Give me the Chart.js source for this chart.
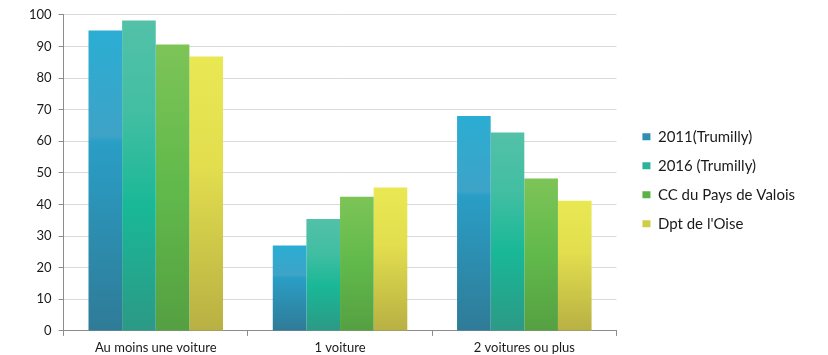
<!DOCTYPE html>
<html>
<head>
<meta charset="utf-8">
<script src="https://cdn.jsdelivr.net/npm/chart.js@4"></script>
<style>
  html, body { margin: 0; padding: 0; background: #fff; }
  #wrap { width: 828px; height: 355px; }
</style>
</head>
<body>
<div id="wrap"><canvas id="c" width="828" height="355"></canvas></div>
<script>
// Taux d'équipement automobile des ménages (%)
const categories = ['Au moins une voiture', '1 voiture', '2 voitures ou plus'];
const seriesNames = ['2011(Trumilly)', '2016 (Trumilly)', 'CC du Pays de Valois', "Dpt de l'Oise"];
const trumilly2011 = [95, 27, 68];
const trumilly2016 = [98.2, 35.4, 62.8];
const ccPaysValois = [90.6, 42.4, 48.2];
const dptOise = [86.8, 45.4, 41.2];

// Vertical gradient stops (top -> bottom) for each series, plus a flat legend colour
const gradientStops = [
  [[0, '#2badd3'], [0.35, '#3ea3c7'], [0.37, '#2a9ec6'], [1, '#2f7b97']],
  [[0, '#52c1a8'], [0.3, '#42bea2'], [0.6, '#19b897'], [1, '#2c9986']],
  [[0, '#7dc457'], [0.5, '#61b94b'], [1, '#55a042']],
  [[0, '#e9e853'], [0.4, '#e2de4e'], [1, '#b8b043']]
];
const legendColors = ['#2e8fb0', '#2ab59a', '#5cb148', '#d1cd46'];

function barGradient(stops) {
  return function (ctx) {
    const chart = ctx.chart;
    if (!chart.chartArea || ctx.type !== 'data') return stops[0][1];
    const y = chart.scales.y;
    const top = y.getPixelForValue(ctx.raw);
    const base = y.getPixelForValue(0);
    if (!isFinite(top) || !isFinite(base) || base - top < 1) return stops[0][1];
    const g = chart.ctx.createLinearGradient(0, top, 0, base);
    stops.forEach(([o, c]) => g.addColorStop(o, c));
    return g;
  };
}

const allSeries = [trumilly2011, trumilly2016, ccPaysValois, dptOise];
const datasets = allSeries.map((values, i) => ({
  label: seriesNames[i],
  data: values,
  backgroundColor: barGradient(gradientStops[i]),
  borderWidth: 0,
  categoryPercentage: 0.73,
  barPercentage: 1
}));

// Leave a gap between the plot and the legend block, and lift the block a little
const LEGEND_GAP = 12;
const LEGEND_SHIFT_Y = -6;
const legendGap = {
  id: 'legendGap',
  beforeInit(chart) {
    const legend = chart.legend;
    const fit = legend.fit;
    legend.fit = function () {
      fit.call(this);
      this.width += LEGEND_GAP;
    };
  },
  afterLayout(chart) {
    chart.legend.left += LEGEND_GAP;
    chart.legend.top += LEGEND_SHIFT_Y;
    chart.legend.bottom += LEGEND_SHIFT_Y;
  }
};

const axisGrey = '#8c8c8c';
const textColor = '#1a1a1a';
const fontFamily = 'Lato, "Open Sans", sans-serif';

new Chart(document.getElementById('c'), {
  type: 'bar',
  data: { labels: categories, datasets },
  plugins: [legendGap],
  options: {
    responsive: false,
    animation: false,
    layout: { padding: { top: 13, left: 22, right: 23, bottom: -4.5 } },
    plugins: {
      tooltip: { enabled: false },
      legend: {
        position: 'right',
        align: 'center',
        labels: {
          boxWidth: 8,
          boxHeight: 7,
          padding: 14,
          color: textColor,
          font: { family: fontFamily, size: 15 },
          generateLabels(chart) {
            return chart.data.datasets.map((ds, i) => ({
              text: ds.label,
              fillStyle: legendColors[i],
              strokeStyle: legendColors[i],
              lineWidth: 0,
              hidden: false,
              datasetIndex: i,
              fontColor: textColor
            }));
          }
        }
      }
    },
    scales: {
      x: {
        grid: {
          display: true,
          drawOnChartArea: false,
          offset: true,
          drawTicks: true,
          tickLength: 5,
          tickColor: axisGrey
        },
        border: { display: true, color: axisGrey, width: 1 },
        ticks: {
          color: textColor,
          padding: 4,
          font: { family: fontFamily, size: 13, lineHeight: 1.2 }
        }
      },
      y: {
        min: 0,
        max: 100,
        ticks: {
          stepSize: 10,
          color: textColor,
          padding: 7,
          font: { family: fontFamily, size: 13 }
        },
        grid: {
          color: '#d9d9d9',
          lineWidth: 1,
          drawTicks: true,
          tickLength: 5,
          tickColor: axisGrey
        },
        border: { display: true, color: axisGrey, width: 1 }
      }
    }
  }
});
</script>
</body>
</html>
